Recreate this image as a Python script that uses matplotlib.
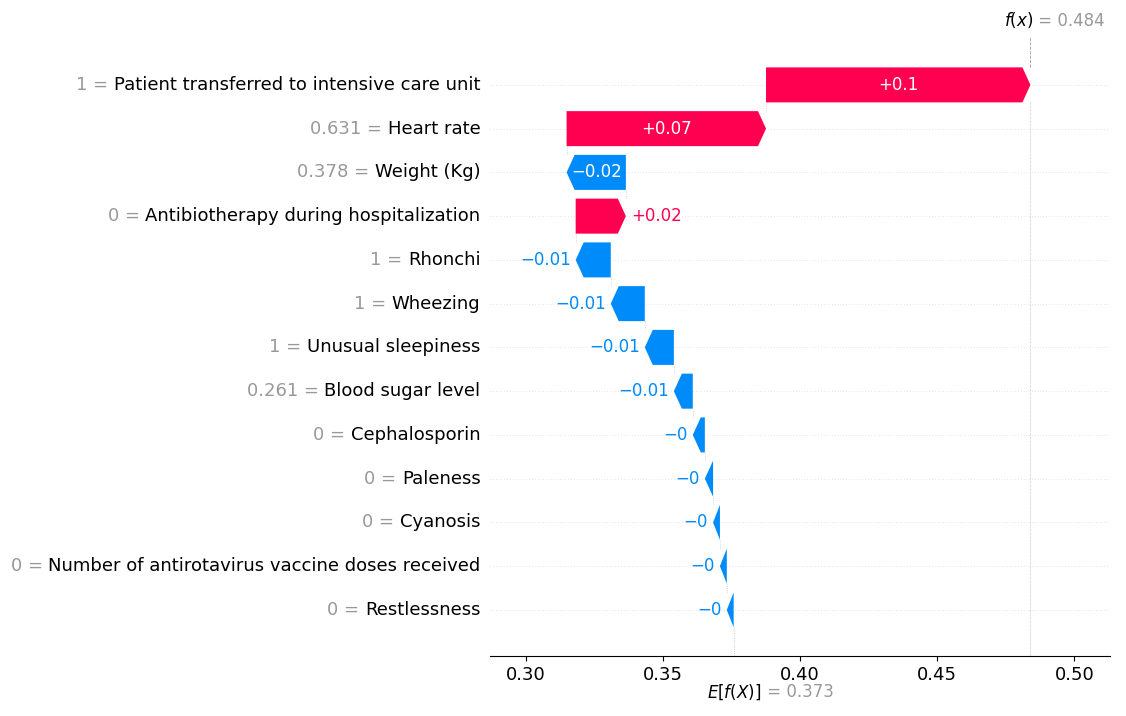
import matplotlib
matplotlib.use("Agg")
import matplotlib.pyplot as plt
import matplotlib.transforms as mtrans
from matplotlib.patches import Polygon

features = ["Patient transferred to intensive care unit", "Heart rate", "Weight (Kg)",
            "Antibiotherapy during hospitalization", "Rhonchi", "Wheezing",
            "Unusual sleepiness", "Blood sugar level", "Cephalosporin", "Paleness",
            "Cyanosis", "Number of antirotavirus vaccine doses received", "Restlessness"]
feature_values = ["1", "0.631", "0.378", "0", "1", "1", "1", "0.261", "0", "0", "0", "0", "0"]
shap_values = [0.0964, 0.0727, -0.0216, 0.0183, -0.0128, -0.0124, -0.0106,
               -0.0069, -0.0044, -0.003, -0.0025, -0.0025, -0.0025]
fx = 0.484
base_label = "0.373"

pos_color = "#ff0051"
neg_color = "#008bfb"
gray = "#999999"

def fmt(v):
    s = "%+0.02f" % v
    s = s.rstrip("0").rstrip(".")
    return s.replace("-", "\u2212")

fig = plt.figure(figsize=(11.26, 7.16), dpi=100)
ax = fig.add_axes([0.435, 0.084, 0.551, 0.828])
n = len(features)
ax.set_xlim(0.2869, 0.5131)
ax.set_ylim(-1.05, n - 0.5)
for s in ["left", "right", "top"]:
    ax.spines[s].set_visible(False)
ax.set_yticks([])
ax.tick_params(axis="x", labelsize=13)
ax.set_xticks([0.30, 0.35, 0.40, 0.45, 0.50])

fig.canvas.draw()
renderer = fig.canvas.get_renderer()
inv = ax.transData.inverted()
px = inv.transform((1, 0))[0] - inv.transform((0, 0))[0]
head = 8 * px
bar_h = 0.8

loc = fx
ends = []
for i, (name, val, v) in enumerate(zip(features, feature_values, shap_values)):
    y = n - 1 - i
    ax.axhline(y, color="#cccccc", lw=0.5, ls=(0, (1, 3)), zorder=0)
    start = loc - v
    end = loc
    ends.append((start, end))
    loc = start
    color = pos_color if v > 0 else neg_color
    hl = min(head, abs(v))
    d = 1 if v > 0 else -1
    tip = end
    neck = end - d * hl
    verts = [(start, y - bar_h / 2), (neck, y - bar_h / 2), (tip, y),
             (neck, y + bar_h / 2), (start, y + bar_h / 2)]
    ax.add_patch(Polygon(verts, closed=True, fc=color, ec="none", zorder=3))
    label = fmt(v)
    mid = (start + end) / 2
    t = ax.text(mid, y, label, ha="center", va="center", color="white", fontsize=12, zorder=4)
    w = t.get_window_extent(renderer).width * px
    if w + 4 * px > abs(v) - hl * 0.5:
        t.remove()
        if v > 0:
            ax.text(end + 5 * px, y, label, ha="left", va="center", color=color, fontsize=12)
        else:
            ax.text(end - 5 * px, y, label, ha="right", va="center", color=color, fontsize=12)
    # row labels
    tn = ax.text(-0.015, y, name, transform=mtrans.blended_transform_factory(ax.transAxes, ax.transData),
                 ha="right", va="center", fontsize=13, color="black")
    wn = tn.get_window_extent(renderer).width
    off = mtrans.offset_copy(mtrans.blended_transform_factory(ax.transAxes, ax.transData),
                             fig=fig, x=-wn, units="dots")
    ax.text(-0.015, y, val + " = ", transform=off, ha="right", va="center", fontsize=13, color=gray)

# connector lines between rows
for i in range(n - 1):
    y = n - 1 - i
    ax.plot([ends[i][0], ends[i][0]], [y - bar_h / 2, y - 1 + bar_h / 2], color="#bbbbbb", lw=0.5, ls=":", zorder=1)

base = loc
ax.plot([base, base], [-1.05, 0 - bar_h / 2], color="#bbbbbb", lw=0.6, ls=":", zorder=1)
ax.plot([fx, fx], [n - 1 + bar_h / 2, n - 0.5 + 0.6], color="#999999", lw=0.6, ls="--", clip_on=False, zorder=1)
ax.plot([fx, fx], [-1.05, n - 1 - bar_h / 2], color="#cccccc", lw=0.5, ls="--", zorder=0)

tr = mtrans.blended_transform_factory(ax.transData, ax.transAxes)
ax.text(fx + 3 * px, 1.055, "$f(x)$", transform=tr, ha="right", va="bottom", fontsize=12)
ax.text(fx + 3 * px, 1.055, " = 0.484", transform=tr, ha="left", va="bottom", fontsize=12, color=gray)
ax.text(base + 28 * px, -0.045, "$E[f(X)]$", transform=tr, ha="right", va="top", fontsize=12)
ax.text(base + 28 * px, -0.045, " = " + base_label, transform=tr, ha="left", va="top", fontsize=12, color=gray)

fig.savefig("out.png", dpi=100)
